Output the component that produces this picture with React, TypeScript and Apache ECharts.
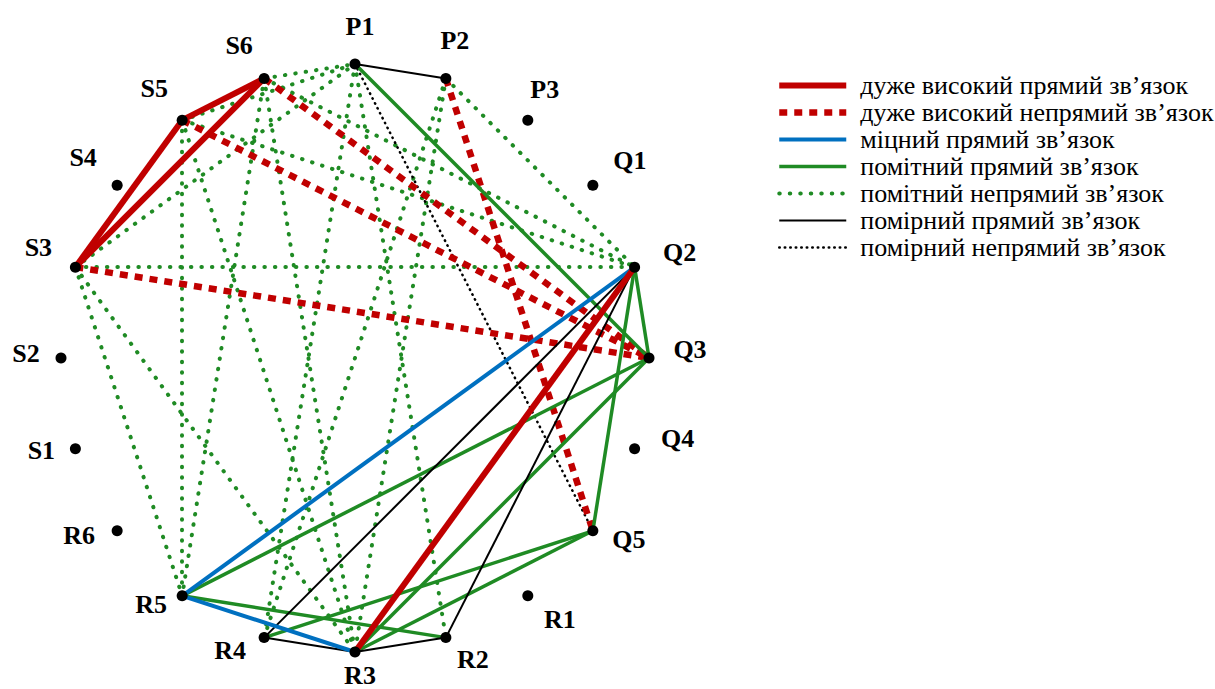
import React, { useEffect, useRef } from 'react';
import * as echarts from 'echarts';

// Nodes, clockwise from the top
const NODES = ['P1', 'P2', 'P3', 'Q1', 'Q2', 'Q3', 'Q4', 'Q5', 'R1', 'R2', 'R3', 'R4', 'R5', 'R6', 'S1', 'S2', 'S3', 'S4', 'S5', 'S6'];

// Edge groups (pairs of node names)
const VERY_HIGH_DIRECT = [['S5', 'S6'], ['S3', 'S5'], ['S3', 'S6'], ['R3', 'Q2']];
const VERY_HIGH_INDIRECT = [['S6', 'Q3'], ['S5', 'Q3'], ['S3', 'Q3'], ['P2', 'Q5']];
const STRONG_DIRECT = [['R5', 'Q2'], ['R5', 'R3']];
const NOTABLE_DIRECT = [['P1', 'Q3'], ['Q2', 'Q3'], ['Q2', 'Q5'], ['Q3', 'R5'], ['Q3', 'R3'], ['Q5', 'R4'], ['Q5', 'R3'], ['R5', 'R2']];
const NOTABLE_INDIRECT = [
  ['S6', 'P1'], ['S5', 'P1'], ['S3', 'P1'],
  ['S6', 'Q2'], ['S5', 'Q2'], ['S3', 'Q2'], ['P2', 'Q2'],
  ['S6', 'R5'], ['S5', 'R5'], ['S3', 'R5'],
  ['S6', 'R3'], ['S5', 'R3'], ['S3', 'R3'],
  ['P1', 'R4'], ['P1', 'R2'], ['P2', 'R4'], ['P2', 'R3'],
];
const MODERATE_DIRECT = [['P1', 'P2'], ['R4', 'Q2'], ['R2', 'Q2'], ['R4', 'R3'], ['R3', 'R2']];
const MODERATE_INDIRECT = [['P1', 'Q5']];

const LEGEND_NAMES = [
  'дуже високий прямий зв’язок',
  'дуже високий непрямий зв’язок',
  'міцний прямий зв’язок',
  'помітний прямий зв’язок',
  'помітний непрямий зв’язок',
  'помірний прямий зв’язок',
  'помірний непрямий зв’язок',
];

// Styles (kept apart from data)
const RED = '#c00000';
const BLUE = '#0070c0';
const GREEN = '#1f8b24';
const BLACK = '#000000';
const LEGEND_STYLES: any[] = [
  { color: RED, width: 6, type: 'solid', cap: 'butt' },
  { color: RED, width: 6.5, type: [8, 7], cap: 'butt' },
  { color: BLUE, width: 4, type: 'solid', cap: 'butt' },
  { color: GREEN, width: 3.5, type: 'solid', cap: 'butt' },
  { color: GREEN, width: 4, type: [0.5, 10], cap: 'round' },
  { color: BLACK, width: 2, type: 'solid', cap: 'butt' },
  { color: BLACK, width: 2.5, type: [0.5, 5], cap: 'round' },
];

const LABEL_OFFSETS: Record<string, number[]> = {
  P1: [5, -38], P2: [9, -38], P3: [17, -31], Q1: [37, -25], Q2: [45, -15],
  Q3: [41, -9], Q4: [43, -10], Q5: [36, 9], R1: [32, 24], R2: [27, 22],
  R3: [5, 23], R4: [-34, 13], R5: [-31, 9], R6: [-38, 5], S1: [-34, 2],
  S2: [-35, -5], S3: [-37, -20], S4: [-34, -28], S5: [-28, -32], S6: [-25, -33],
};

const SERIF = '"Liberation Serif", "Times New Roman", serif';

export default function App() {
  const ref = useRef<HTMLDivElement>(null);

  useEffect(() => {
    if (!ref.current) return;
    const chart = echarts.init(ref.current, null, { renderer: 'svg' });

    const groups = [VERY_HIGH_DIRECT, VERY_HIGH_INDIRECT, STRONG_DIRECT, NOTABLE_DIRECT, NOTABLE_INDIRECT, MODERATE_DIRECT, MODERATE_INDIRECT];
    // drawing order (bottom to top)
    const drawOrder = [4, 6, 1, 3, 5, 2, 0];
    const links: any[] = [];
    drawOrder.forEach((gi) => {
      const st = LEGEND_STYLES[gi];
      groups[gi].forEach(([s, t]) => {
        links.push({
          source: s,
          target: t,
          lineStyle: { color: st.color, width: st.width, type: st.type, cap: st.cap, opacity: 1, curveness: 0 },
        });
      });
    });

    const legendSeries = LEGEND_NAMES.map((name, i) => ({
      type: 'line',
      name,
      coordinateSystem: 'polar',
      data: [],
      symbol: 'none',
      itemStyle: { color: LEGEND_STYLES[i].color },
      lineStyle: {
        color: LEGEND_STYLES[i].color,
        width: LEGEND_STYLES[i].width,
        type: LEGEND_STYLES[i].type,
        cap: LEGEND_STYLES[i].cap,
      },
    }));

    chart.setOption({
      animation: false,
      backgroundColor: '#ffffff',
      polar: { center: [355, 358], radius: 294 },
      angleAxis: {
        type: 'category',
        data: NODES,
        boundaryGap: false,
        startAngle: 90,
        clockwise: true,
        show: false,
        axisLine: { show: false },
        axisTick: { show: false },
        axisLabel: { show: false },
        splitLine: { show: false },
      },
      radiusAxis: { type: 'value', min: 0, max: 1, show: false, splitLine: { show: false } },
      legend: {
        orient: 'vertical',
        left: 776,
        top: 72,
        padding: 0,
        itemGap: 0,
        itemWidth: 67,
        itemHeight: 14,
        selectedMode: false,
        data: LEGEND_NAMES,
        itemStyle: { opacity: 0 },
        lineStyle: { width: 'inherit', type: 'inherit', cap: 'inherit', color: 'inherit' },
        textStyle: { fontFamily: SERIF, fontSize: 26, color: '#000', lineHeight: 27, padding: [0, 0, 0, 9] },
      },
      series: [
        {
          type: 'graph',
          coordinateSystem: 'polar',
          silent: true,
          symbol: 'circle',
          symbolSize: 11,
          edgeSymbol: ['none', 'none'],
          itemStyle: { color: '#000' },
          emphasis: { disabled: true },
          label: {
            show: true,
            position: 'inside',
            fontFamily: SERIF,
            fontWeight: 'bold',
            fontSize: 26,
            color: '#000',
          },
          lineStyle: { opacity: 1 },
          data: NODES.map((name, i) => ({ name, value: [1, i], label: { offset: LABEL_OFFSETS[name] } })),
          links,
        },
        ...legendSeries,
      ],
    });

    return () => chart.dispose();
  }, []);

  return (
    <div
      ref={ref}
      style={{ position: 'absolute', left: 0, top: 0, width: 1215, height: 689, background: '#fff' }}
    />
  );
}
